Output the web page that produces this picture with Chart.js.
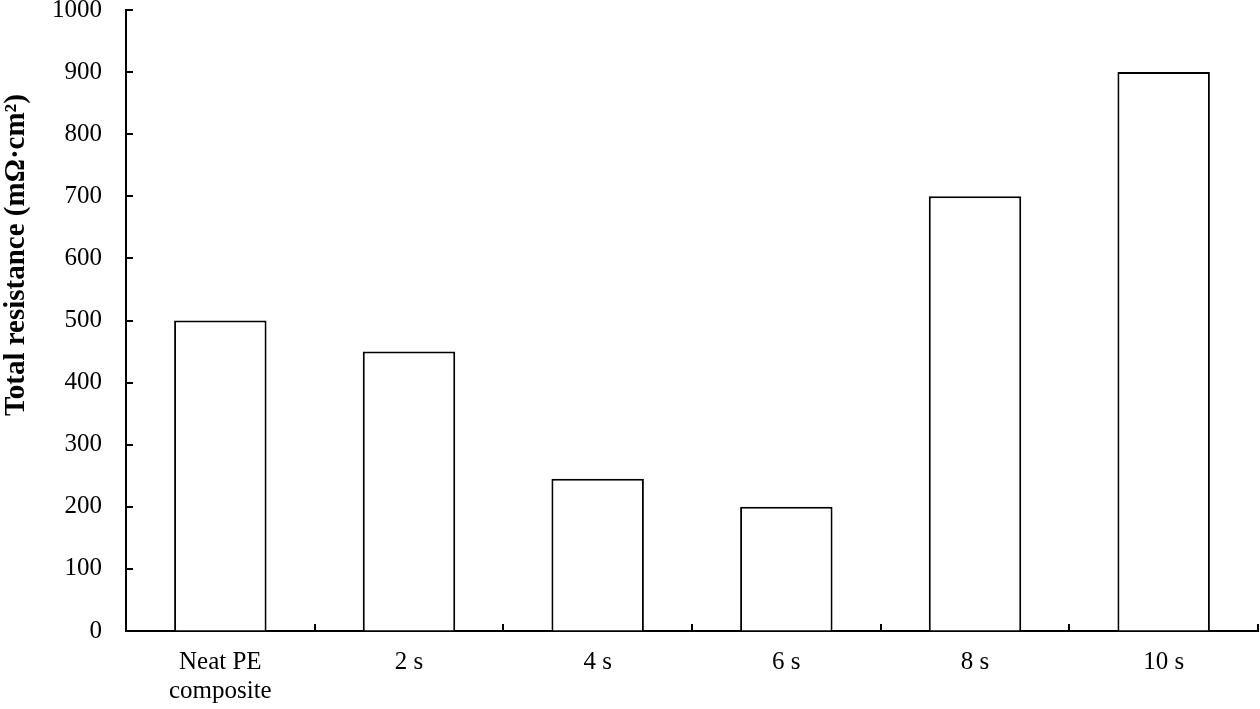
<!DOCTYPE html>
<html>
<head>
<meta charset="utf-8">
<script src="https://cdn.jsdelivr.net/npm/chart.js@4/dist/chart.umd.min.js"></script>
<style>
  html, body { margin: 0; padding: 0; background: #fff; }
  #wrap { width: 1260px; height: 709px; position: relative; }
</style>
</head>
<body>
<div id="wrap"><canvas id="chart"></canvas></div>
<script>
// Data
const categories = [['Neat PE', 'composite'], '2 s', '4 s', '6 s', '8 s', '10 s'];
const resistance = [500, 450, 245, 200, 700, 900];
const yTicks = [0, 100, 200, 300, 400, 500, 600, 700, 800, 900, 1000];
const yTitle = 'Total resistance (mΩ·cm²)';

const FONT = '"Liberation Serif", "Times New Roman", serif';

// Ticks point into the plot area, so they are drawn here instead of by the scales
const inwardTicks = {
  id: 'inwardTicks',
  afterDatasetsDraw(chart) {
    const { ctx, chartArea, scales: { x, y } } = chart;
    ctx.save();
    ctx.strokeStyle = '#000';
    ctx.lineWidth = 2;
    ctx.beginPath();
    yTicks.forEach(v => {
      const py = Math.round(y.getPixelForValue(v));
      ctx.moveTo(chartArea.left, py);
      ctx.lineTo(chartArea.left + 7, py);
    });
    const step = x.getPixelForValue(1) - x.getPixelForValue(0);
    for (let i = 0; i < categories.length; i++) {
      const px = Math.round(x.getPixelForValue(i) + step / 2);
      ctx.moveTo(px, chartArea.bottom);
      ctx.lineTo(px, chartArea.bottom - 7);
    }
    ctx.stroke();

    // y-axis title
    ctx.font = 'bold 29px ' + FONT;
    ctx.fillStyle = '#000';
    ctx.textAlign = 'center';
    ctx.textBaseline = 'middle';
    ctx.translate(17, 255);
    ctx.rotate(-Math.PI / 2);
    ctx.fillText(yTitle, 0, 0);
    ctx.restore();
  }
};

new Chart(document.getElementById('chart'), {
  type: 'bar',
  data: {
    labels: categories,
    datasets: [{
      data: resistance,
      backgroundColor: '#fff',
      borderColor: '#000',
      borderWidth: 2,
      categoryPercentage: 1,
      barPercentage: 0.49
    }]
  },
  options: {
    responsive: true,
    maintainAspectRatio: false,
    animation: false,
    layout: { padding: { top: 10, right: 2, bottom: 0, left: 0 } },
    plugins: { legend: { display: false }, tooltip: { enabled: false } },
    scales: {
      x: {
        offset: true,
        grid: { display: true, drawOnChartArea: false, drawTicks: false },
        border: { color: '#000', width: 2 },
        ticks: { color: '#000', font: { family: FONT, size: 25, lineHeight: 1.15 }, padding: 17, maxRotation: 0 },
        afterFit(scale) {
          scale.height = 78;
          scale.paddingLeft = 0;
          scale.paddingRight = 0;
        }
      },
      y: {
        min: 0,
        max: 1000,
        afterBuildTicks(scale) { scale.ticks = yTicks.map(v => ({ value: v })); },
        grid: { display: true, drawOnChartArea: false, drawTicks: false },
        border: { color: '#000', width: 2 },
        ticks: {
          color: '#000',
          font: { family: FONT, size: 25 },
          padding: 24,
          callback: v => String(v)
        },
        afterFit(scale) {
          scale.width = 126;
          scale.paddingTop = 0;
          scale.paddingBottom = 0;
        }
      }
    }
  },
  plugins: [inwardTicks]
});
</script>
</body>
</html>
